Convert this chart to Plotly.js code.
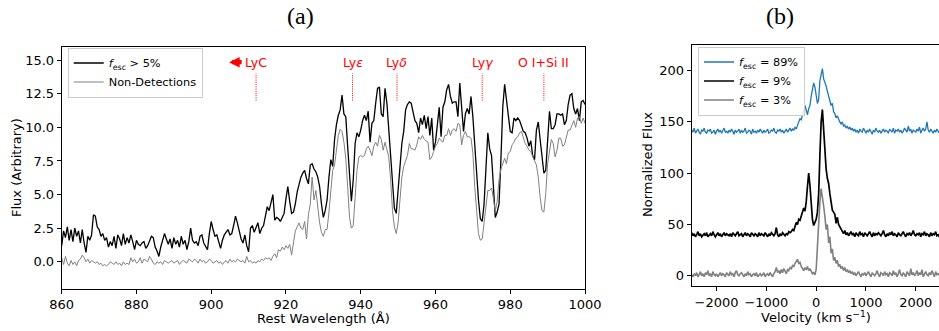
<!DOCTYPE html>
<html>
<head>
<meta charset="utf-8">
<script src="https://cdn.plot.ly/plotly-3.0.1.min.js"></script>
<style>html,body{margin:0;padding:0;background:#fff;}#chart{width:939px;height:331px;}</style>
</head>
<body>
<div id="chart"></div>
<script>
// ---------- Panel (a): stacked spectra, sampled every 0.5 Å from 860 Å ----------
const waveStart = 860;
const waveStep = 0.5;

const fluxDetected = [
1.2,2.3,1.8,2.6,1.6,2.4,1.5,2.5,1.9,2.3,
1.4,2.4,1.4,0.7,1.9,1.6,2.0,3.5,3.4,2.6,
2.4,1.9,2.1,1.6,1.8,1.1,1.5,1.2,1.9,1.0,
2.0,1.7,1.2,2.1,1.3,1.8,1.4,2.0,1.5,0.9,
1.6,1.3,1.2,1.4,1.5,1.0,1.2,1.6,1.9,1.8,
1.1,0.8,0.4,1.1,1.6,2.1,1.7,1.3,1.7,1.0,
1.8,1.3,1.6,1.1,1.9,1.3,1.6,0.9,1.5,2.5,
1.6,1.4,1.5,1.2,1.9,2.0,1.4,1.1,0.9,2.1,
3.0,2.4,1.9,2.0,1.5,1.0,1.6,2.0,2.2,2.4,
2.0,2.1,2.7,3.4,2.9,2.2,1.7,1.4,2.0,1.2,
0.75,2.5,2.7,2.2,2.6,2.9,2.1,2.5,2.7,3.3,
4.1,3.8,4.3,5.0,3.1,3.3,3.2,3.0,3.3,3.6,
4.7,5.6,4.5,3.6,3.7,4.3,5.2,5.8,6.3,6.6,
6.8,6.2,5.8,7.2,7.3,6.9,6.7,6.3,5.6,4.3,
3.3,3.8,4.6,6.3,7.6,7.1,9.1,10.2,10.9,11.3,
12.4,11.0,10.8,8.6,6.3,4.5,6.1,8.8,9.6,9.3,
9.8,10.5,10.9,10.5,11.2,8.9,10.3,10.5,11.8,12.9,
13.0,11.0,10.8,12.9,11.8,10.0,7.8,5.8,4.0,3.6,
5.3,6.8,8.8,9.7,11.3,11.7,11.9,11.8,11.0,10.5,
10.3,9.6,10.7,10.2,10.9,9.9,10.8,9.4,10.7,8.3,
8.9,10.3,11.5,9.3,11.5,11.9,12.8,13.2,12.3,11.8,
11.9,11.9,10.8,13.3,11.7,9.7,11.0,11.4,11.0,12.3,
10.8,8.6,6.1,4.6,3.2,3.0,4.3,7.3,9.6,8.4,
7.9,5.6,3.3,3.7,4.3,7.6,11.5,13.2,12.0,11.0,
9.7,9.6,10.7,10.5,10.7,10.5,10.0,9.7,9.6,9.2,
8.6,9.0,7.9,7.6,9.8,10.4,9.1,7.8,6.6,6.8,
8.8,11.2,9.9,9.9,10.2,11.0,11.0,10.9,11.0,10.2,
10.5,11.7,12.4,12.5,11.4,11.0,11.4,10.5,11.9,12.0,
11.7
];

const fluxNonDetected = [
0.3,-0.2,0.4,-0.1,-0.3,0.1,-0.2,0.0,-0.3,0.1,
0.2,0.5,0.3,0.0,0.2,-0.1,0.1,0.0,-0.1,0.0,
-0.2,-0.1,-0.3,-0.2,-0.3,-0.2,0.0,-0.1,-0.2,0.0,
-0.2,-0.1,-0.3,0.0,-0.2,-0.1,-0.2,0.3,0.0,0.2,
-0.1,0.0,0.3,-0.1,0.2,0.1,0.0,0.4,0.2,-0.1,
-0.2,0.0,-0.1,0.0,-0.2,0.1,0.0,-0.1,0.0,0.1,
-0.1,0.0,0.1,-0.2,0.0,0.1,0.0,-0.1,0.2,0.1,
0.0,0.2,0.1,-0.1,0.2,0.0,0.1,-0.1,0.0,0.2,
0.1,-0.1,0.0,0.1,-0.1,0.0,-0.2,0.0,0.1,-0.1,
0.2,0.0,0.1,0.0,0.2,0.1,0.0,0.1,-0.1,0.4,
0.0,0.1,-0.1,0.0,-0.1,0.1,0.0,0.2,0.1,0.3,
0.2,0.3,0.1,0.4,0.6,0.3,0.9,0.8,1.1,0.9,
1.2,1.0,1.3,0.5,1.6,2.3,2.6,2.9,2.5,2.4,
3.0,1.7,3.5,4.3,6.3,4.6,5.3,4.1,2.9,2.2,
1.9,2.4,2.4,3.7,5.1,6.8,7.2,8.2,9.4,9.85,
9.7,8.9,7.7,5.6,3.3,2.5,2.7,4.8,6.8,7.8,
7.9,7.8,7.9,8.4,8.6,8.3,7.9,8.6,8.9,8.6,
9.4,9.1,8.3,8.9,8.4,7.8,6.1,3.8,2.6,2.1,
2.9,4.6,6.3,7.1,7.6,7.9,8.8,8.4,8.4,8.3,
8.7,9.3,9.1,9.4,9.1,9.0,8.9,7.6,7.8,8.2,
8.6,8.8,9.2,9.0,8.9,9.4,9.4,9.9,9.4,9.8,
9.9,9.7,10.3,10.2,8.7,9.4,9.7,9.3,9.3,9.2,
8.1,5.6,3.6,2.1,1.6,1.7,2.9,4.3,5.3,5.3,
5.5,4.7,3.8,4.5,6.1,6.9,7.4,7.7,7.3,8.1,
8.2,8.7,8.9,9.2,9.3,9.6,9.7,9.3,8.8,8.6,
8.3,8.2,7.8,7.5,7.2,6.3,4.8,3.8,3.7,5.1,
7.3,8.3,9.1,8.8,7.8,8.3,9.2,9.2,8.6,8.7,
9.3,9.8,9.8,10.2,10.5,10.0,10.7,10.8,10.3,10.7,
10.3
];

// line identifications (rest wavelength, Å)
const lineWaves = [912, 937.8, 949.7, 972.5, 989];
const lineNames = ['LyC', 'Ly<i>ε</i>', 'Ly<i>δ</i>', 'Ly<i>γ</i>', 'O I+Si II'];

const waveTicks = [860, 880, 900, 920, 940, 960, 980, 1000];
const fluxTicks = [0, 2.5, 5, 7.5, 10, 12.5, 15];

// ---------- Panel (b): Lyα profiles, sampled every 25 km/s from -2500 ----------
const velStart = -2500;
const velStep = 25;

const profile89 = [
142,140,144,139,141,143,140,138,142,141,
144,140,139,142,141,143,139,140,142,138,
141,143,140,142,139,141,144,140,141,139,
142,140,143,141,138,142,140,141,143,139,
142,140,141,144,139,140,142,141,138,143,
140,141,139,142,140,143,141,139,142,140,
141,143,139,140,142,141,144,140,139,142,
141,143,140,142,139,141,143,140,142,144,
141,143,142,145,143,148,150,153,152,157,
160,166,162,157,163,166,175,180,188,184,
176,168,172,190,196,202,192,189,185,180,
175,172,166,168,160,158,154,156,152,150,
148,150,146,147,144,146,143,145,142,144,
141,143,140,142,139,143,141,140,144,141,
139,142,140,143,141,138,142,140,144,141,
140,142,139,141,143,140,142,141,139,143,
141,140,144,139,142,141,143,140,142,139,
141,144,142,140,146,141,143,139,142,141,
140,143,141,145,139,142,144,141,143,150,
142,140,143,141,139,142,140,143,141,139,
141
];

const profile9 = [
42,39,41,38,40,43,39,41,38,40,
41,39,42,38,40,41,39,43,40,38,
40,42,39,41,38,40,42,39,41,40,
39,41,38,42,40,39,41,43,39,40,
41,38,40,42,39,41,40,38,42,40,
39,41,40,38,42,39,41,40,39,42,
40,38,41,39,42,40,39,41,47,40,
38,41,39,42,40,39,41,40,43,42,
43,45,44,48,52,50,55,54,58,62,
66,63,72,87,100,88,70,55,49,52,
55,62,80,118,150,162,138,120,104,95,
90,80,72,64,62,60,51,57,50,48,
45,43,41,44,40,42,39,41,43,40,
41,38,42,40,39,43,40,41,38,42,
40,39,41,43,40,38,42,39,41,40,
42,40,39,41,44,40,38,41,39,42,
40,43,39,41,40,38,42,40,39,41,
43,40,38,41,40,42,39,41,44,40,
39,41,40,42,38,41,40,43,39,41,
40,38,42,39,41,40,43,39,40,38,
41
];

const profile3 = [
1,-1,2,0,3,-1,1,4,0,2,
-1,3,1,5,0,2,-1,4,1,0,
2,-1,1,3,0,2,1,-1,3,1,
0,4,1,2,-1,3,5,1,0,2,
3,1,-1,2,0,4,1,2,-1,1,
2,0,3,-1,1,2,0,1,3,-1,
1,2,0,3,1,-1,2,4,8,3,
5,2,6,3,7,4,2,6,5,8,
7,10,9,12,14,16,12,13,9,7,
5,8,6,9,5,7,4,2,3,1,
6,28,55,72,85,78,68,58,45,50,
32,38,22,26,15,18,12,15,9,11,
7,9,5,8,4,6,3,5,2,4,
1,3,0,2,4,1,-1,2,1,3,
0,2,4,1,-1,3,1,0,2,5,
1,-1,3,2,0,4,1,2,-1,3,
2,0,5,1,3,-1,2,6,1,0,
3,1,-1,4,2,0,7,1,3,0,
2,5,0,3,1,6,-1,2,4,1,
0,3,1,5,2,-1,4,1,2,0,
2
];

const velTicks = [-2000, -1000, 0, 1000, 2000];
const normTicks = [0, 50, 100, 150, 200];

// ---------- build ----------
const wave = fluxDetected.map((_, i) => waveStart + waveStep * i);
const vel = profile89.map((_, i) => velStart + velStep * i);

const FONT = 'DejaVu Sans, Verdana, sans-serif';
const W = 939, H = 331;
const px = v => v / W;
const py = v => (H - v) / H;

const traces = [
  {x: wave, y: fluxDetected, type: 'scatter', mode: 'lines', xaxis: 'x', yaxis: 'y',
   name: '<i>f</i><sub>esc</sub> &gt; 5%', line: {color: '#000000', width: 1.3}, legend: 'legend'},
  {x: wave, y: fluxNonDetected, type: 'scatter', mode: 'lines', xaxis: 'x', yaxis: 'y',
   name: 'Non-Detections', line: {color: '#808080', width: 1.0}, legend: 'legend'},
  {x: vel, y: profile89, type: 'scatter', mode: 'lines', xaxis: 'x2', yaxis: 'y2',
   name: '<i>f</i><sub>esc</sub> = 89%', line: {color: '#1f77b4', width: 1.3}, legend: 'legend2'},
  {x: vel, y: profile9, type: 'scatter', mode: 'lines', xaxis: 'x2', yaxis: 'y2',
   name: '<i>f</i><sub>esc</sub> = 9%', line: {color: '#000000', width: 1.7}, legend: 'legend2'},
  {x: vel, y: profile3, type: 'scatter', mode: 'lines', xaxis: 'x2', yaxis: 'y2',
   name: '<i>f</i><sub>esc</sub> = 3%', line: {color: '#808080', width: 1.6}, legend: 'legend2'}
];

const axisCommon = {
  showgrid: false, zeroline: false, showline: true, linecolor: '#000', linewidth: 1,
  ticks: 'outside', ticklen: 4, tickwidth: 1, tickcolor: '#000',
  tickfont: {family: FONT, size: 13, color: '#000'}, automargin: false
};

const shapes = lineWaves.map(w => ({
  type: 'line', xref: 'x', yref: 'y', x0: w, x1: w, y0: 12, y1: 14,
  line: {color: '#ff0000', width: 1, dash: '1px,1.2px'}
}));

const annotations = lineWaves.map((w, i) => ({
  x: w, y: 14.85, xref: 'x', yref: 'y', text: lineNames[i], showarrow: false,
  font: {family: FONT, size: 12.5, color: '#ff0000'}, xanchor: 'center', yanchor: 'middle'
}));

annotations.push({
  x: 904.8, y: 14.85, xref: 'x', yref: 'y', ax: 14, ay: 0, axref: 'pixel', ayref: 'pixel',
  text: '', showarrow: true, arrowhead: 2, arrowsize: 0.5, arrowwidth: 4.2, arrowcolor: '#ff0000',
  standoff: 0, startstandoff: 0
});

const titleFont = {family: 'Liberation Serif, DejaVu Serif, serif', size: 24, color: '#000'};
const labFont = {family: FONT, size: 13, color: '#000'};
const paperNote = (x, y, text, extra) => Object.assign({
  x: px(x), y: py(y), xref: 'paper', yref: 'paper', text: text, showarrow: false,
  xanchor: 'center', yanchor: 'middle'
}, extra);
annotations.push(
  paperNote(300.5, 16, '(a)', {font: titleFont}),
  paperNote(780, 16, '(b)', {font: titleFont}),
  paperNote(16, 168, 'Flux (Arbitrary)', {textangle: -90, font: labFont}),
  paperNote(323, 318, 'Rest Wavelength (Å)', {font: labFont}),
  paperNote(647, 165, 'Normalized Flux', {textangle: -90, font: labFont}),
  paperNote(816, 317, 'Velocity (km s<sup>−1</sup>)', {font: labFont})
);

const legendCommon = {
  xanchor: 'left', yanchor: 'top', bgcolor: 'rgba(255,255,255,0.85)',
  bordercolor: '#cccccc', borderwidth: 1, font: {family: FONT, size: 11.3, color: '#000'},
  itemwidth: 30, tracegroupgap: 0, traceorder: 'normal'
};

const layout = {
  width: W, height: H,
  margin: {l: 0, r: 0, t: 0, b: 0, pad: 0},
  paper_bgcolor: '#ffffff', plot_bgcolor: '#ffffff',
  showlegend: true,
  xaxis: Object.assign({}, axisCommon, {domain: [px(61.7), px(585)], range: [860, 1000],
    tickvals: waveTicks, mirror: true, anchor: 'y'}),
  yaxis: Object.assign({}, axisCommon, {domain: [py(288.7), py(46.7)], range: [-2, 16],
    tickvals: fluxTicks, tickformat: '.1f', mirror: true, anchor: 'x'}),
  xaxis2: Object.assign({}, axisCommon, {domain: [px(691.7), 1], range: [-2500, 2467],
    tickvals: velTicks, mirror: true, anchor: 'y2'}),
  yaxis2: Object.assign({}, axisCommon, {domain: [py(286), py(45)], range: [-10, 225],
    tickvals: normTicks, mirror: false, anchor: 'x2'}),
  legend: Object.assign({}, legendCommon, {x: px(67.7), y: py(47.5)}),
  legend2: Object.assign({}, legendCommon, {x: px(698), y: py(46.5)}),
  shapes: shapes,
  annotations: annotations
};

Plotly.newPlot('chart', traces, layout, {displayModeBar: false, staticPlot: true});
</script>
</body>
</html>
